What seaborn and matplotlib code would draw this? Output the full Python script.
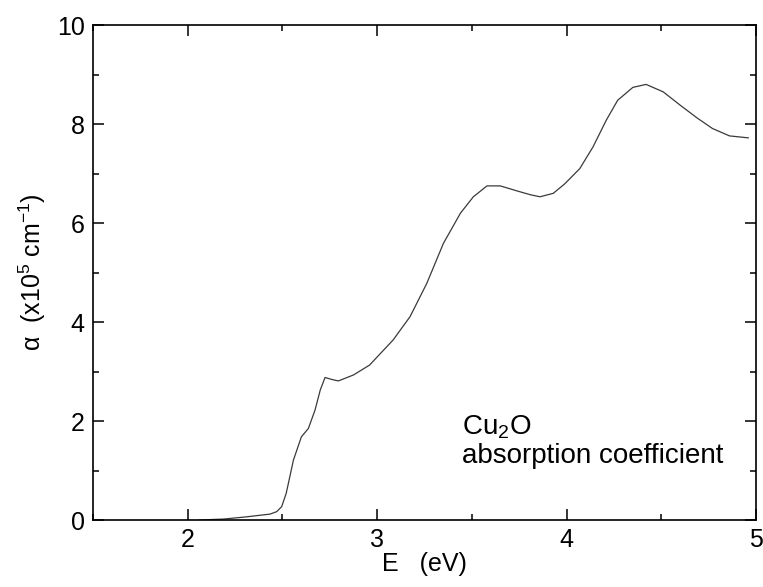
"""Cu2O absorption coefficient vs photon energy"""
import matplotlib
matplotlib.use('Agg')
import matplotlib.pyplot as plt
from matplotlib.ticker import MultipleLocator
import pandas as pd
import seaborn as sns

# values
energy = [2.06, 2.19, 2.30, 2.435, 2.47, 2.496, 2.52, 2.558, 2.60, 2.637, 2.672,
          2.70, 2.725, 2.76, 2.795, 2.875, 2.96, 3.085, 3.174, 3.262, 3.35,
          3.44, 3.508, 3.58, 3.65, 3.737, 3.81, 3.86, 3.93, 3.99,
          4.07, 4.14, 4.21, 4.27, 4.35, 4.42, 4.51, 4.60, 4.69, 4.77, 4.86, 4.96]
alpha = [0.0, 0.02, 0.06, 0.12, 0.17, 0.27, 0.54, 1.21, 1.68, 1.85, 2.22,
         2.63, 2.88, 2.84, 2.81, 2.93, 3.13, 3.64, 4.11, 4.78, 5.59,
         6.20, 6.53, 6.75, 6.75, 6.65, 6.57, 6.53, 6.60, 6.79,
         7.10, 7.54, 8.08, 8.48, 8.74, 8.80, 8.65, 8.38, 8.12, 7.91, 7.76, 7.72]

df = pd.DataFrame({'E': energy, 'alpha': alpha})

sns.set_style('ticks')
plt.rcParams['font.family'] = ['Liberation Sans', 'DejaVu Sans']
plt.rcParams['mathtext.default'] = 'regular'
plt.rcParams['text.color'] = 'black'
plt.rcParams['axes.labelcolor'] = 'black'

fig = plt.figure(figsize=(7.63, 5.87), dpi=100)
ax = fig.add_axes([0.1219, 0.1141, 0.8689, 0.8433])

sns.lineplot(data=df, x='E', y='alpha', ax=ax, color='#3a3a3a', linewidth=0.9)

ax.set_xlim(1.5, 5)
ax.set_ylim(0, 10)
ax.xaxis.set_major_locator(MultipleLocator(1))
ax.xaxis.set_minor_locator(MultipleLocator(0.5))
ax.yaxis.set_major_locator(MultipleLocator(2))
ax.yaxis.set_minor_locator(MultipleLocator(1))
ax.tick_params(which='both', direction='in', top=True, right=True, width=1.1,
               labelsize=18, colors='black')
ax.tick_params(which='major', length=8, pad=6)
ax.tick_params(which='minor', length=4)
for s in ax.spines.values():
    s.set_linewidth(1.2)
    s.set_color('black')

ax.set_xlabel('E   (eV)', fontsize=18, labelpad=0)
ax.set_ylabel(r'$\alpha$  (x10$^5$ cm$^{-1}$)', fontsize=18, labelpad=6)

ax.text(3.45, 1.15, 'Cu$_2$O\nabsorption coefficient', fontsize=20,
        ha='left', va='baseline', linespacing=1.1)

fig.savefig('out.png', dpi=100)
